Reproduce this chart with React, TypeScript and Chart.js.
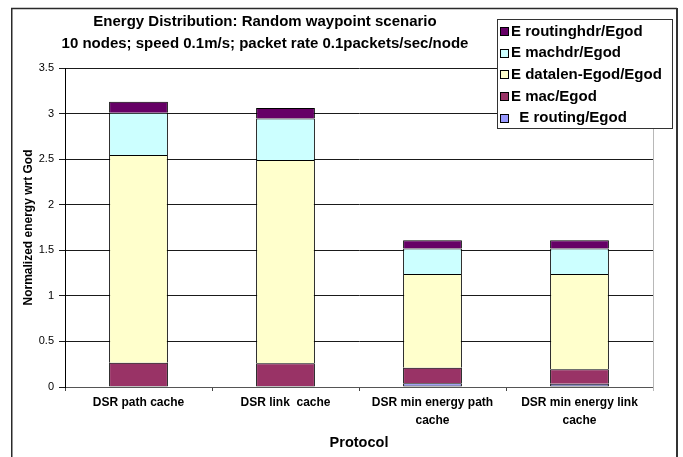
import React, { useEffect, useRef } from 'react';
import { Chart, registerables } from 'chart.js';

Chart.register(...registerables);

const CATEGORIES: (string | string[])[] = [
  'DSR path cache',
  'DSR link  cache',
  ['DSR min energy path', 'cache'],
  ['DSR min energy link', 'cache'],
];
const E_ROUTING = [0.01, 0.01, 0.04, 0.035];
const E_MAC = [0.255, 0.25, 0.17, 0.16];
const E_DATALEN = [2.28, 2.23, 1.03, 1.045];
const E_MACHDR = [0.465, 0.455, 0.28, 0.28];
const E_ROUTINGHDR = [0.12, 0.115, 0.09, 0.09];
const SERIES_LABELS = ['  E routing/Egod', 'E mac/Egod', 'E datalen-Egod/Egod', 'E machdr/Egod', 'E routinghdr/Egod'];
const SERIES_COLORS = ['#9999FF', '#993366', '#FFFFCC', '#CCFFFF', '#660066'];
const TITLE_LINES = [
  'Energy Distribution: Random waypoint scenario',
  '10 nodes; speed 0.1m/s; packet rate 0.1packets/sec/node',
];
const Y_TITLE = 'Normalized energy wrt God';
const X_TITLE = 'Protocol';
const Y_MIN = 0;
const Y_MAX = 3.5;
const Y_STEP = 0.5;

const FONT = '"Liberation Sans", Arial, Helvetica, sans-serif';

const decorPlugin = {
  id: 'decor',
  beforeDraw(chart: any) {
    const ctx = chart.ctx;
    ctx.save();
    ctx.fillStyle = '#ffffff';
    ctx.fillRect(0, 0, chart.width, chart.height);
    ctx.restore();
  },
  afterDraw(chart: any) {
    const { ctx, chartArea } = chart;
    ctx.save();
    // plot area right border
    const rx = Math.round(chartArea.right) + 0.5;
    ctx.strokeStyle = '#b8b8b8';
    ctx.lineWidth = 1;
    ctx.beginPath();
    ctx.moveTo(rx, chartArea.top);
    ctx.lineTo(rx, chartArea.bottom + 4);
    ctx.stroke();

    // title
    ctx.fillStyle = '#000';
    ctx.font = `bold 15px ${FONT}`;
    ctx.textAlign = 'center';
    ctx.textBaseline = 'middle';
    TITLE_LINES.forEach((t, i) => ctx.fillText(t, 265, 22 + i * 22));

    // legend
    const lx = 497.5, ly = 19.5, lw = 175, lh = 109;
    ctx.fillStyle = '#fff';
    ctx.fillRect(lx, ly, lw, lh);
    ctx.strokeStyle = '#333';
    ctx.lineWidth = 1;
    ctx.strokeRect(lx, ly, lw, lh);
    const ds = chart.data.datasets;
    ctx.font = `bold 15px ${FONT}`;
    ctx.textAlign = 'left';
    ctx.textBaseline = 'middle';
    for (let k = 0; k < ds.length; k++) {
      const d = ds[ds.length - 1 - k];
      const cy = 31 + k * 21.7;
      const sy = Math.round(cy - 4) + 0.5;
      ctx.fillStyle = d.backgroundColor;
      ctx.fillRect(500.5, sy, 8, 8);
      ctx.strokeStyle = '#000';
      ctx.strokeRect(500.5, sy, 8, 8);
      ctx.fillStyle = '#000';
      ctx.fillText(d.label, 511, cy + 0.5);
    }

    // outer frame
    ctx.strokeStyle = '#2a2a2a';
    ctx.lineWidth = 1.5;
    ctx.beginPath();
    ctx.moveTo(11.75, 470);
    ctx.lineTo(11.75, 8.5);
    ctx.lineTo(677, 8.5);
    ctx.stroke();
    ctx.lineWidth = 2;
    ctx.strokeStyle = '#333';
    ctx.beginPath();
    ctx.moveTo(677, 8);
    ctx.lineTo(677, 470);
    ctx.stroke();
    ctx.restore();
  },
};

export default function App() {
  const ref = useRef<HTMLCanvasElement | null>(null);
  useEffect(() => {
    if (!ref.current) return;
    const values = [E_ROUTING, E_MAC, E_DATALEN, E_MACHDR, E_ROUTINGHDR];
    const chart = new Chart(ref.current, {
      type: 'bar',
      data: {
        labels: CATEGORIES as any,
        datasets: values.map((v, i) => ({
          label: SERIES_LABELS[i],
          data: v,
          backgroundColor: SERIES_COLORS[i],
          borderColor: '#000',
          borderWidth: { top: 1, left: 1, right: 1, bottom: i === 0 ? 1 : 0 },
          borderSkipped: false,
          categoryPercentage: 1,
          barPercentage: 0.4,
        })),
      },
      options: {
        responsive: false,
        animation: false,
        devicePixelRatio: 1,
        layout: { padding: { top: 68, right: 30, left: 0, bottom: 0 } },
        plugins: {
          legend: { display: false },
          title: { display: false },
          tooltip: { enabled: false },
        },
        scales: {
          x: {
            stacked: true,
            afterFit: (s: any) => { s.height = 70; },
            grid: { display: true, drawOnChartArea: false, drawTicks: true, tickLength: 4, color: '#444', offset: true },
            border: { display: true, color: '#555', width: 1 },
            ticks: {
              color: '#000',
              padding: 3,
              maxRotation: 0,
              autoSkip: false,
              font: { family: FONT, size: 12, weight: 'bold', lineHeight: 1.5 },
            },
            title: {
              display: true,
              text: X_TITLE,
              color: '#000',
              font: { family: FONT, size: 14.5, weight: 'bold', lineHeight: 1.2 },
              padding: { top: 0, bottom: 5.3 },
            },
          },
          y: {
            stacked: true,
            min: Y_MIN,
            max: Y_MAX,
            afterFit: (s: any) => { s.width = 65; },
            grid: { color: '#1a1a1a', lineWidth: 1, drawTicks: true, tickLength: 6 },
            border: { display: true, color: '#000', width: 1 },
            ticks: {
              stepSize: Y_STEP,
              color: '#000',
              padding: 5,
              font: { family: FONT, size: 11 },
              callback: (v: any) => String(Math.round(Number(v) * 10) / 10),
            },
            title: {
              display: true,
              text: Y_TITLE,
              color: '#000',
              font: { family: FONT, size: 12, weight: 'bold', lineHeight: 1.2 },
              padding: { top: 21, bottom: 0 },
            },
          },
        },
      },
      plugins: [decorPlugin],
    } as any);
    return () => chart.destroy();
  }, []);
  return (
    <div style={{ position: 'absolute', left: 0, top: 0, width: 683, height: 457, overflow: 'hidden' }}>
      <canvas ref={ref} width={683} height={457} style={{ display: 'block', width: 683, height: 457 }} />
    </div>
  );
}
